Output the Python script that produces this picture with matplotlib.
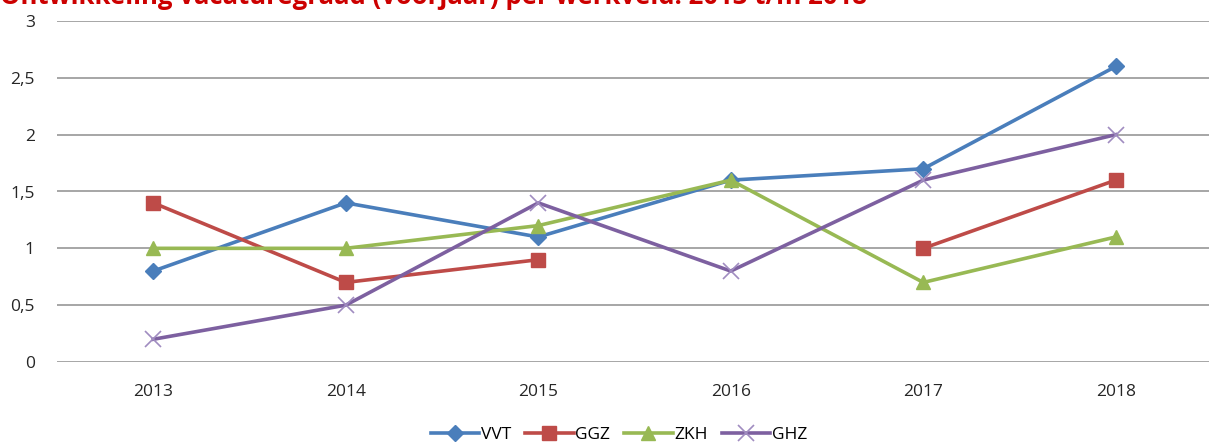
import numpy as np
import matplotlib
matplotlib.use('Agg')
import matplotlib.pyplot as plt
from matplotlib.ticker import FuncFormatter

years = ['2013', '2014', '2015', '2016', '2017', '2018']
vvt = [0.8, 1.4, 1.1, 1.6, 1.7, 2.6]
ggz = [1.4, 0.7, 0.9, np.nan, 1.0, 1.6]
zkh = [1.0, 1.0, 1.2, 1.6, 0.7, 1.1]
ghz = [0.2, 0.5, 1.4, 0.8, 1.6, 2.0]

title = 'Ontwikkeling vacaturegraad (voorjaar) per werkveld: 2013 t/m 2018'

plt.rcParams['font.family'] = ['Open Sans', 'DejaVu Sans']

fig = plt.figure(figsize=(12.09, 4.44), dpi=100)
ax = fig.add_axes([57 / 1209, 82 / 444, 1155 / 1209, 341 / 444])

x = np.arange(len(years))
ax.plot(x, vvt, color='#4A7EBB', lw=2.6, marker='D', ms=8.5, label='VVT')
ax.plot(x, ggz, color='#BE4B48', lw=2.6, marker='s', ms=10, label='GGZ')
ax.plot(x, zkh, color='#98B954', lw=2.6, marker='^', ms=10.5, label='ZKH')
ax.plot(x, ghz, color='#7D60A0', lw=2.6, marker='x', ms=11, mew=1.2,
        mec='#A08CC0', label='GHZ')

ax.set_xlim(-0.5, 5.5)
ax.set_ylim(0, 3)
ax.set_xticks(x)
ax.set_xticklabels(years)
ax.set_yticks(np.arange(0, 3.01, 0.5))
ax.yaxis.set_major_formatter(FuncFormatter(lambda v, p: ('%g' % v).replace('.', ',')))
ax.tick_params(axis='both', length=0, labelsize=12.5, colors='#262626')
ax.tick_params(axis='y', pad=16)
ax.tick_params(axis='x', pad=16)
ax.grid(axis='y', color='#A6A6A6', lw=1.4)
ax.set_axisbelow(True)
for s in ax.spines.values():
    s.set_visible(False)

fig.text(0.0, 1 - 4 / 444, title, color='#CC0000', fontsize=18.5, fontweight='bold',
         ha='left', va='baseline')

fig.legend(loc='center', bbox_to_anchor=(619 / 1209, 1 - 435 / 444), ncol=4,
           frameon=False, fontsize=12.5, handlelength=2.8, columnspacing=0.8,
           handletextpad=0.1, borderaxespad=0)

fig.savefig('out.png', dpi=100)
